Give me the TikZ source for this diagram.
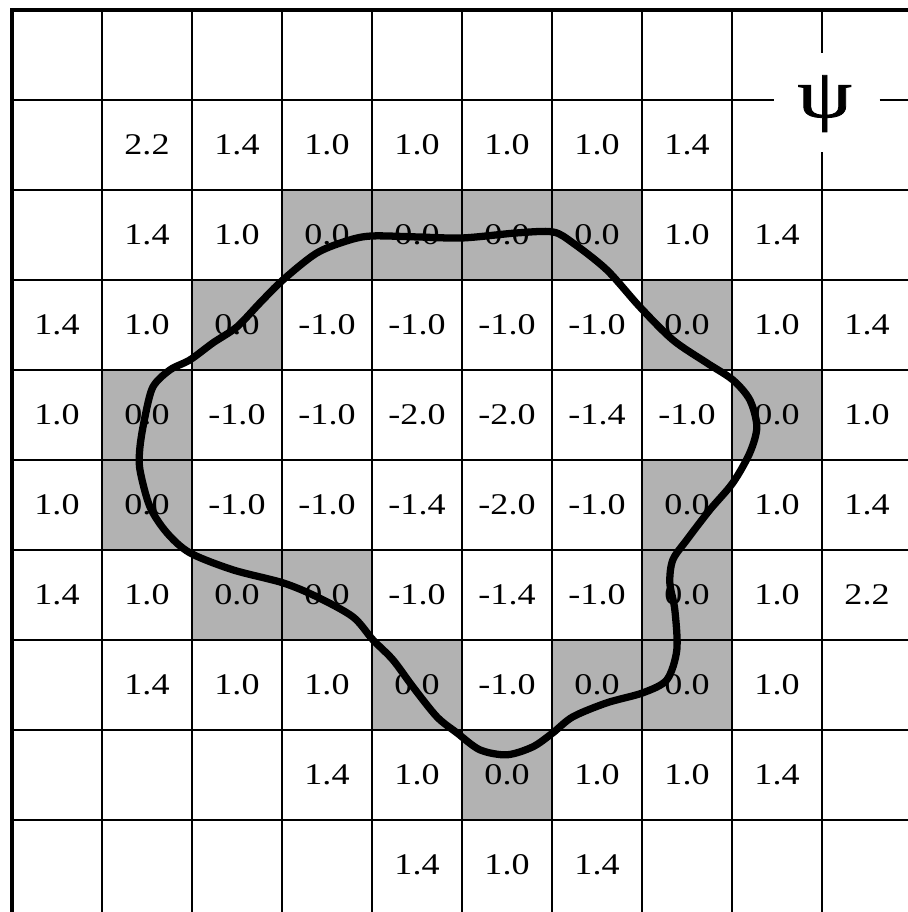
\documentclass[tikz,border=0pt]{standalone}
\usepackage{fontspec}
\setmainfont{Liberation Serif}
\newfontfamily\numfont[FakeStretch=1.2]{Liberation Serif}
\newfontfamily\psifont[FakeStretch=1.25, FakeBold=1.2]{Liberation Serif}
\usepackage{tikz}
\usetikzlibrary{positioning,calc}

\tikzset{
  cellline/.style={line width=0.9pt, black},
  frameline/.style={line width=1.4pt, black},
  zerocell/.style={fill=black!30},
  val/.style={font=\numfont\fontsize{9.5}{10}\selectfont, inner sep=0pt},
  psilabel/.style={font=\psifont\fontsize{22}{22}\selectfont, inner sep=0pt},
  front/.style={line width=2.3pt, black, line join=round}
}

\begin{document}
\begin{tikzpicture}
  \useasboundingbox (-0.1333, 0.1111) rectangle (9.9444, -10.0222);

  % cells on the zero level
  \foreach \c/\r in {3/2, 4/2, 5/2, 6/2, 2/3, 7/3, 1/4, 8/4, 1/5, 7/5,
                     2/6, 3/6, 7/6, 4/7, 6/7, 7/7, 5/8}
    \fill[zerocell] (\c, -\r) rectangle ++(1, -1);

  % grid
  \foreach \x in {1,...,8}
    \draw[cellline] (\x, 0) -- (\x, -10.2);
  \foreach \y in {2,...,9}
    \draw[cellline] (0, -\y) -- (10.2, -\y);
  \draw[cellline] (9, 0) -- (9, -0.478);
  \draw[cellline] (9, -1.578) -- (9, -10.2);
  \draw[cellline] (0, -1) -- (8.47, -1);
  \draw[cellline] (9.64, -1) -- (10.2, -1);
  \draw[frameline] (0, -10.2) -- (0, 0) -- (10.2, 0);

  \node[psilabel] (psi) at (9.03, -1.04) {ψ};

  % distance values, row by row
  \foreach \vals [count=\r from 1] in {
      {,2.2,1.4,1.0,1.0,1.0,1.0,1.4,,},
      {,1.4,1.0,0.0,0.0,0.0,0.0,1.0,1.4,},
      {1.4,1.0,0.0,-1.0,-1.0,-1.0,-1.0,0.0,1.0,1.4},
      {1.0,0.0,-1.0,-1.0,-2.0,-2.0,-1.4,-1.0,0.0,1.0},
      {1.0,0.0,-1.0,-1.0,-1.4,-2.0,-1.0,0.0,1.0,1.4},
      {1.4,1.0,0.0,0.0,-1.0,-1.4,-1.0,0.0,1.0,2.2},
      {,1.4,1.0,1.0,0.0,-1.0,0.0,0.0,1.0,},
      {,,,1.4,1.0,0.0,1.0,1.0,1.4,},
      {,,,,1.4,1.0,1.4,,,}}
    \foreach \v [count=\c from 0] in \vals {
      \ifx\v\empty\else
        \node[val] (v-\r-\c) at (\c + 0.5, -\r - 0.5) {\v};
      \fi
    };

  % interface
  \begin{scope}[shift={(-0.1333, 0.1111)}, x=0.01111cm, y=-0.01111cm]
    \draw[front] plot[smooth cycle, tension=0.5] coordinates {
      (283,280) (317,253) (350,240) (373,236) (417,237) (463,238)
      (517,233) (553,232) (573,243) (607,270) (640,307) (673,340)
      (707,363) (733,380) (750,400) (757,427) (750,453) (733,483)
      (710,510) (687,540) (673,560) (670,583) (675,610) (677,650)
      (667,680) (643,693) (607,703) (573,717) (553,733) (533,747)
      (507,755) (480,750) (457,733) (437,717) (413,687) (393,660)
      (373,640) (353,617) (317,597) (283,583) (233,570) (190,553)
      (167,533) (150,507) (140,470) (140,447) (145,417) (153,387)
      (170,370) (190,360) (213,343) (237,327) (260,303)};
  \end{scope}
\end{tikzpicture}
\end{document}
